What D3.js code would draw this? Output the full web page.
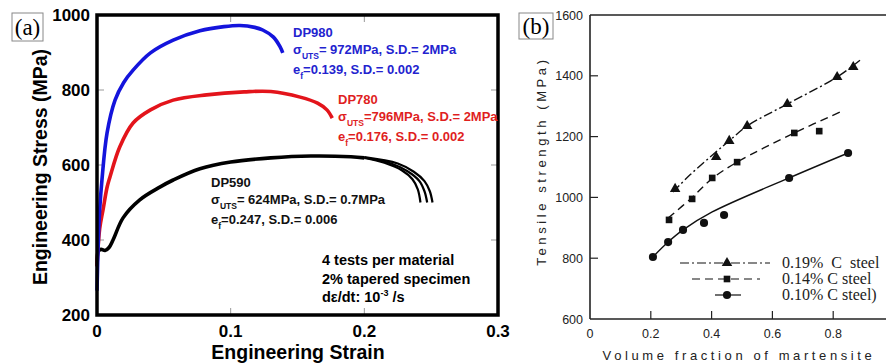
<!DOCTYPE html>
<html>
<head>
<meta charset="utf-8">
<script src="https://cdn.jsdelivr.net/npm/d3@7"></script>
<style>
  body { margin: 0; background: #fff; }
  svg { display: block; }
  .pa { font-family: "Liberation Sans", Arial, sans-serif; font-weight: bold; }
  .pb { font-family: "Liberation Sans", Arial, sans-serif; fill: #222; }
  .serif { font-family: "Liberation Serif", "Times New Roman", serif; }
</style>
</head>
<body>
<div id="chart"></div>
<script>
// ---- panel (a) data : engineering stress-strain curves ----
var strainTicks = [0, 0.1, 0.2, 0.3];
var stressTicks = [200, 400, 600, 800, 1000];

var dp980 = [[0,265],[0.001,400],[0.002,480],[0.0037,560],[0.0075,685],[0.0135,773],[0.02,820],
  [0.027,853],[0.04,899],[0.057,933],[0.077,958],[0.095,969],[0.107,972],[0.118,967],[0.124,960],
  [0.132,941],[0.137,915],[0.139,899]];
var dp780 = [[0,330],[0.002,430],[0.0045,480],[0.0075,540],[0.0097,568],[0.017,648],[0.027,712],
  [0.04,747],[0.057,773],[0.082,787],[0.11,795],[0.13,796],[0.152,781],[0.165,765],[0.172,747],[0.176,725]];
var dp590 = [[0,330],[0.001,370],[0.003,375],[0.006,372],[0.009,380],[0.012,400],[0.0195,459],
  [0.032,507],[0.047,541],[0.057,560],[0.077,590],[0.1,608],[0.13,619],[0.16,624],[0.19,622],[0.2,619]];
var dp590Tails = [
  [[0.2,619],[0.215,606],[0.228,586],[0.236,562],[0.240,535],[0.242,500]],
  [[0.2,620],[0.22,604],[0.232,584],[0.241,558],[0.245,530],[0.247,500]],
  [[0.2,621],[0.225,604],[0.237,582],[0.245,557],[0.249,530],[0.251,500]]
];

// ---- panel (b) data : tensile strength vs martensite fraction ----
var fractionTicks = [0, 0.2, 0.4, 0.6, 0.8];
var strengthTicks = [600, 800, 1000, 1200, 1400, 1600];

var c19Points = [[0.280,1028],[0.415,1133],[0.458,1186],[0.517,1235],[0.649,1307],[0.813,1396],[0.866,1429]];
var c19Fit = [[0.273,1018],[0.33,1075],[0.415,1150],[0.458,1186],[0.517,1235],[0.649,1307],[0.813,1396],[0.889,1452]];
var c14Points = [[0.260,926],[0.336,995],[0.402,1064],[0.484,1116],[0.672,1212],[0.754,1218]];
var c14Fit = [[0.257,932],[0.336,1000],[0.402,1062],[0.484,1116],[0.672,1212],[0.830,1284]];
var c10Points = [[0.207,804],[0.257,853],[0.306,893],[0.375,916],[0.441,942],[0.655,1064],[0.849,1146]];
var c10Fit = [[0.207,804],[0.257,853],[0.306,893],[0.402,952],[0.655,1064],[0.849,1146]];
var legendLabels = ["0.19%  C  steel", "0.14% C steel", "0.10% C steel)"];

var width = 886, height = 364;
var svg = d3.select("#chart").append("svg")
  .attr("width", width).attr("height", height);
svg.append("rect").attr("width", width).attr("height", height).attr("fill", "#fff");

// ================= panel (a) =================
var xa = d3.scaleLinear().domain([0, 0.3]).range([97, 498]);
var ya = d3.scaleLinear().domain([200, 1000]).range([315, 15]);
var ga = svg.append("g").attr("class", "pa");

// inner ticks
stressTicks.slice(1, -1).forEach(function(v) {
  ga.append("line").attr("x1", 97).attr("x2", 104).attr("y1", ya(v)).attr("y2", ya(v)).attr("stroke", "#999");
  ga.append("line").attr("x1", 491).attr("x2", 498).attr("y1", ya(v)).attr("y2", ya(v)).attr("stroke", "#999");
});
strainTicks.slice(1, -1).forEach(function(v) {
  ga.append("line").attr("x1", xa(v)).attr("x2", xa(v)).attr("y1", 315).attr("y2", 308).attr("stroke", "#999");
  ga.append("line").attr("x1", xa(v)).attr("x2", xa(v)).attr("y1", 15).attr("y2", 22).attr("stroke", "#999");
});

var lineA = d3.line().x(function(d) { return xa(d[0]); }).y(function(d) { return ya(d[1]); })
  .curve(d3.curveCatmullRom);

ga.append("path").attr("d", lineA(dp590)).attr("fill", "none").attr("stroke", "#000").attr("stroke-width", 3.6);
dp590Tails.forEach(function(t) {
  ga.append("path").attr("d", lineA(t)).attr("fill", "none").attr("stroke", "#000").attr("stroke-width", 2.2);
});
ga.append("path").attr("d", lineA(dp780)).attr("fill", "none").attr("stroke", "#e3141b").attr("stroke-width", 3.6);
ga.append("path").attr("d", lineA(dp980)).attr("fill", "none").attr("stroke", "#1414dc").attr("stroke-width", 3.6);

// frame
ga.append("rect").attr("x", 97).attr("y", 15).attr("width", 401).attr("height", 300)
  .attr("fill", "none").attr("stroke", "#000").attr("stroke-width", 3.5);

// tick labels
ga.selectAll(".yl").data(stressTicks).enter().append("text")
  .attr("x", 90).attr("y", function(d) { return ya(d); }).attr("dy", "0.36em")
  .attr("text-anchor", "end").attr("font-size", 17).text(function(d) { return d; });
ga.selectAll(".xl").data(strainTicks).enter().append("text")
  .attr("x", function(d) { return xa(d); }).attr("y", 337)
  .attr("text-anchor", "middle").attr("font-size", 17).text(function(d) { return d; });

ga.append("text").attr("x", 298).attr("y", 359).attr("text-anchor", "middle")
  .attr("font-size", 19.5).text("Engineering Strain");
ga.append("text").attr("transform", "translate(47,167) rotate(-90)").attr("text-anchor", "middle")
  .attr("font-size", 19.5).text("Engineering Stress (MPa)");

// annotations
function annot(x, y, color, name, uts, ef) {
  ga.append("text").attr("x", x).attr("y", y).attr("fill", color).attr("font-size", 13).text(name);
  var t = ga.append("text").attr("x", x).attr("y", y + 17).attr("fill", color).attr("font-size", 13);
  t.append("tspan").text("\u03c3");
  t.append("tspan").attr("dy", 5).attr("font-size", 8.5).text("UTS");
  t.append("tspan").attr("dy", -5).text(uts);
  var e = ga.append("text").attr("x", x).attr("y", y + 37).attr("fill", color).attr("font-size", 13);
  e.append("tspan").text("e");
  e.append("tspan").attr("dy", 5).attr("font-size", 8.5).text("f");
  e.append("tspan").attr("dy", -5).text(ef);
}
annot(293, 37, "#2323cf", "DP980", "= 972MPa, S.D.= 2MPa", "=0.139, S.D.= 0.002");
annot(338, 104, "#df1f1f", "DP780", "=796MPa, S.D.= 2MPa", "=0.176, S.D.= 0.002");
annot(211, 187, "#111", "DP590", "= 624MPa, S.D.= 0.7MPa", "=0.247, S.D.= 0.006");

ga.append("text").attr("x", 322).attr("y", 265).attr("font-size", 14.5).text("4 tests per material");
ga.append("text").attr("x", 322).attr("y", 284).attr("font-size", 14.5).text("2% tapered specimen");
var rate = ga.append("text").attr("x", 322).attr("y", 302).attr("font-size", 14.5);
rate.append("tspan").text("d\u03b5/dt: 10");
rate.append("tspan").attr("dy", -6).attr("font-size", 9).text("-3");
rate.append("tspan").attr("dy", 6).text(" /s");

// (a) label box
svg.append("rect").attr("x", 12).attr("y", 13).attr("width", 31).attr("height", 28)
  .attr("fill", "none").attr("stroke", "#888").attr("stroke-width", 1);
svg.append("text").attr("class", "serif").attr("x", 27.5).attr("y", 35).attr("text-anchor", "middle")
  .attr("font-size", 23).text("(a)");

// ================= panel (b) =================
var xb = d3.scaleLinear().domain([0, 1]).range([590, 894]);
var yb = d3.scaleLinear().domain([600, 1600]).range([319, 15]);
var gb = svg.append("g").attr("class", "pb");

gb.append("line").attr("x1", 590).attr("x2", 886).attr("y1", 15).attr("y2", 15).attr("stroke", "#222").attr("stroke-width", 1.6);
gb.append("line").attr("x1", 590).attr("x2", 886).attr("y1", 319).attr("y2", 319).attr("stroke", "#222").attr("stroke-width", 1.6);
gb.append("line").attr("x1", 590).attr("x2", 590).attr("y1", 15).attr("y2", 319).attr("stroke", "#222").attr("stroke-width", 1.6);

strengthTicks.slice(1, -1).forEach(function(v) {
  gb.append("line").attr("x1", 590).attr("x2", 598).attr("y1", yb(v)).attr("y2", yb(v)).attr("stroke", "#222").attr("stroke-width", 1.2);
});
fractionTicks.slice(1).forEach(function(v) {
  gb.append("line").attr("x1", xb(v)).attr("x2", xb(v)).attr("y1", 319).attr("y2", 311).attr("stroke", "#222").attr("stroke-width", 1.2);
});

gb.selectAll(".yl").data(strengthTicks).enter().append("text")
  .attr("x", 583).attr("y", function(d) { return yb(d); }).attr("dy", "0.36em")
  .attr("text-anchor", "end").attr("font-size", 12.5).text(function(d) { return d; });
gb.selectAll(".xl").data(fractionTicks).enter().append("text")
  .attr("x", function(d) { return xb(d); }).attr("y", 338)
  .attr("text-anchor", "middle").attr("font-size", 12.5).text(function(d) { return d; });

gb.append("text").attr("x", 739).attr("y", 360).attr("text-anchor", "middle")
  .attr("font-size", 13).attr("letter-spacing", 3.6).text("Volume fraction of martensite");
gb.append("text").attr("transform", "translate(546,161) rotate(-90)").attr("text-anchor", "middle")
  .attr("font-size", 13).attr("letter-spacing", 3.6).text("Tensile strength (MPa)");

var lineB = d3.line().x(function(d) { return xb(d[0]); }).y(function(d) { return yb(d[1]); })
  .curve(d3.curveCatmullRom);

var series = [
  { fit: c19Fit, pts: c19Points, dash: "9,3,2,3", mark: d3.symbolTriangle, size: 48 },
  { fit: c14Fit, pts: c14Points, dash: "8,5", mark: d3.symbolSquare, size: 44 },
  { fit: c10Fit, pts: c10Points, dash: null, mark: d3.symbolCircle, size: 52 }
];

series.forEach(function(s) {
  gb.append("path").attr("d", lineB(s.fit)).attr("fill", "none").attr("stroke", "#111")
    .attr("stroke-width", 1.4).attr("stroke-dasharray", s.dash);
  gb.selectAll(null).data(s.pts).enter().append("path")
    .attr("transform", function(d) { return "translate(" + xb(d[0]) + "," + yb(d[1]) + ")"; })
    .attr("d", d3.symbol().type(s.mark).size(s.size)).attr("fill", "#111");
});

// legend
var legRows = [263, 279, 295];
var legLines = [[680, 770], [692, 760], [715, 741]];
series.forEach(function(s, i) {
  gb.append("line").attr("x1", legLines[i][0]).attr("x2", legLines[i][1])
    .attr("y1", legRows[i]).attr("y2", legRows[i]).attr("stroke", "#111").attr("stroke-width", 1.2)
    .attr("stroke-dasharray", s.dash);
  gb.append("path").attr("transform", "translate(727," + legRows[i] + ")")
    .attr("d", d3.symbol().type(s.mark).size(s.size)).attr("fill", "#111");
  gb.append("text").attr("class", "serif").attr("x", 782).attr("y", legRows[i]).attr("dy", "0.33em")
    .attr("font-size", 16).style("white-space", "pre").text(legendLabels[i]);
});

// (b) label box
svg.append("rect").attr("x", 519).attr("y", 13).attr("width", 34).attr("height", 26)
  .attr("fill", "none").attr("stroke", "#888").attr("stroke-width", 1);
svg.append("text").attr("class", "serif").attr("x", 536).attr("y", 34).attr("text-anchor", "middle")
  .attr("font-size", 23).text("(b)");
</script>
</body>
</html>
